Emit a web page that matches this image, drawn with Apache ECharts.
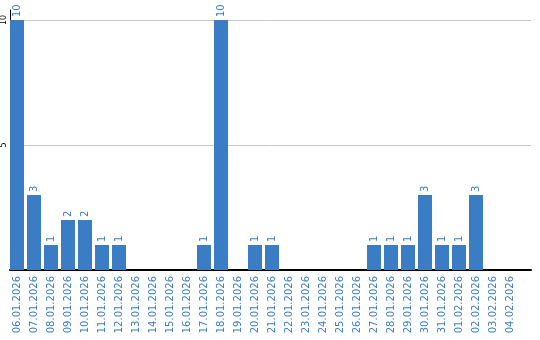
<!DOCTYPE html>
<html><head><meta charset="utf-8">
<script src="https://cdn.jsdelivr.net/npm/echarts@6/dist/echarts.min.js"></script>
<style>html,body{margin:0;padding:0;background:#fff}#c{width:540px;height:340px}</style>
</head><body><div id="c"></div>
<script>
const categories = ['06.01.2026','07.01.2026','08.01.2026','09.01.2026','10.01.2026','11.01.2026','12.01.2026','13.01.2026','14.01.2026','15.01.2026','16.01.2026','17.01.2026','18.01.2026','19.01.2026','20.01.2026','21.01.2026','22.01.2026','23.01.2026','24.01.2026','25.01.2026','26.01.2026','27.01.2026','28.01.2026','29.01.2026','30.01.2026','31.01.2026','01.02.2026','02.02.2026','03.02.2026','04.02.2026'];
const values = [10,3,1,2,2,1,1,0,0,0,0,1,10,0,1,1,0,0,0,0,0,1,1,1,3,1,1,3,0,0];
const yMin = 0, yMax = 10, yStep = 5;

const BLUE = '#3b7dc4';
const chart = echarts.init(document.getElementById('c'), null, {renderer: 'canvas'});
chart.setOption({
  animation: false,
  textStyle: {fontFamily: 'DejaVu Sans'},
  grid: [
    {left: 8.5, top: 20, bottom: 70, width: 510, containLabel: false},
    {left: 10, right: 9, top: 20, bottom: 70, containLabel: false},
    {left: 10.5, right: 9, top: 10, bottom: 70, containLabel: false}
  ],
  xAxis: [
    {type: 'category', gridIndex: 0, data: categories, boundaryGap: true,
     axisLine: {show: false}, axisTick: {show: false},
     axisLabel: {rotate: 90, interval: 0, color: BLUE, fontSize: 10, margin: 6, fontFamily: 'DejaVu Sans'}},
    {type: 'value', gridIndex: 1, min: 0, max: 1, show: true,
     axisLine: {show: true, onZero: false, lineStyle: {color: '#000', width: 2}},
     axisTick: {show: false}, axisLabel: {show: false}, splitLine: {show: false}},
    {type: 'value', gridIndex: 2, min: 0, max: 1, show: false}
  ],
  yAxis: [
    {type: 'value', gridIndex: 0, min: yMin, max: yMax, interval: yStep, show: false},
    {type: 'value', gridIndex: 1, min: yMin, max: yMax, interval: yStep,
     axisLine: {show: false}, axisTick: {show: false},
     splitLine: {show: true, showMinLine: false, lineStyle: {color: '#c8c8c8', width: 1}},
     axisLabel: {showMinLabel: false, rotate: 90, color: '#000', fontSize: 8, margin: 2, fontFamily: 'DejaVu Sans'}},
    {type: 'value', gridIndex: 2, min: 0, max: 1, show: true,
     axisLine: {show: true, onZero: false, lineStyle: {color: '#000', width: 1}},
     axisTick: {show: false}, axisLabel: {show: false}, splitLine: {show: false}}
  ],
  series: [{
    type: 'bar', xAxisIndex: 0, yAxisIndex: 0, data: values, z: 3,
    barWidth: 14, itemStyle: {color: BLUE},
    label: {show: true, position: 'top', rotate: 90, align: 'left', verticalAlign: 'middle',
      distance: 3, color: BLUE, fontSize: 10, fontFamily: 'DejaVu Sans',
      formatter: p => p.value > 0 ? String(p.value) : ''}
  }]
});
</script>
</body></html>
